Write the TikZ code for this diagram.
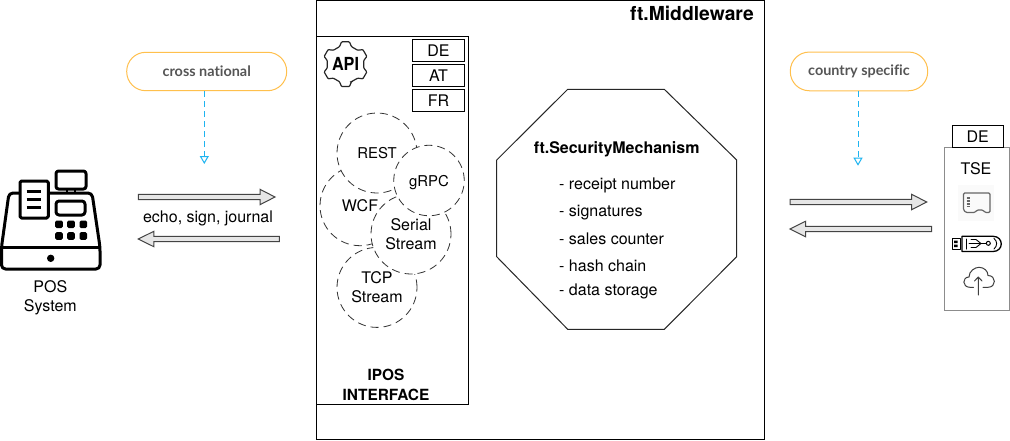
\documentclass[tikz,border=0pt]{standalone}
\usepackage{fontspec}
\setmainfont{TeX Gyre Heros}
\newfontfamily\pillfont[Ligatures=NoCommon]{Lato}
\usetikzlibrary{arrows.meta}
\definecolor{pillline}{HTML}{FFC04D}
\definecolor{pilltext}{HTML}{555555}
\definecolor{hint}{HTML}{1EB4F0}
\definecolor{arrowfill}{HTML}{E6E6E6}
\definecolor{arrowline}{HTML}{444444}
\tikzset{
  x=1pt,y=-1pt,
  basefont/.style={font=\fontsize{16}{19}\selectfont},
  narrowfont/.style={font=\fontsize{14.9}{19}\selectfont},
  plainbox/.style={draw=black,line width=1pt,fill=white},
  code/.style={draw=black,line width=.9pt,fill=white,inner sep=0pt,minimum width=52.4pt,minimum height=22pt,basefont,text depth=0pt},
  proto/.style={circle,draw=black!80,line width=.8pt,dash pattern=on 8pt off 5pt,fill=white,inner sep=0pt,basefont,align=center,text depth=0pt},
  lbl/.style={inner sep=0pt,basefont,anchor=base},
  item/.style={inner sep=0pt,basefont,anchor=base west},
  boldlbl/.style={inner sep=0pt,anchor=base,font=\fontsize{15.4}{19}\selectfont\bfseries},
  pill/.style={draw=pillline,line width=1pt,fill=white,rounded corners=19pt,inner sep=0pt,text=pilltext,font=\fontsize{14.4}{15}\selectfont\pillfont\bfseries},
  hintline/.style={draw=hint,line width=1pt,dash pattern=on 6pt off 4pt,-{Triangle[open,length=8pt,width=9pt]}},
  block/.style={draw=arrowline,line width=1pt,fill=arrowfill,line join=miter},
  reg/.style={draw=black,line width=3pt,line join=round,fill=white},
  keycap/.style={fill=black,rounded corners=1.5pt},
  iconthin/.style={draw=black,line width=1pt,line cap=round,line join=round},
}
\newcommand{\blockright}[3]{\draw[block] (#1,#3-2.7) -- (#2-15,#3-2.7) -- (#2-15,#3-7.7) -- (#2,#3) -- (#2-15,#3+7.7) -- (#2-15,#3+2.7) -- (#1,#3+2.7) -- cycle;}
\newcommand{\blockleft}[3]{\draw[block] (#2,#3-2.7) -- (#1+15.5,#3-2.7) -- (#1+15.5,#3-7.7) -- (#1,#3) -- (#1+15.5,#3+7.7) -- (#1+15.5,#3+2.7) -- (#2,#3+2.7) -- cycle;}
\begin{document}
\begin{tikzpicture}
\useasboundingbox (0,0) rectangle (1010,440);
\fill[white] (0,0) rectangle (1010,440);

% --- Cash register ---
\draw[reg,rounded corners=2.5pt] (56,171) rectangle (86,189);
\draw[black,line width=2pt] (67,189) -- (67,193) (75,189) -- (75,193);
\draw[reg,rounded corners=4pt] (9,193) -- (1.5,247) -- (1.5,269) -- (100,269) -- (100,247) -- (92,193) -- cycle;
\draw[black,line width=3pt] (1.5,247) -- (100,247);
\draw[reg,rounded corners=1.5pt] (20,181) rectangle (48.3,218);
\foreach \yy in {191,199.3,207.7}{\draw[black,line width=3pt] (26.7,\yy) -- (40.7,\yy);}
\draw[reg,rounded corners=3pt] (56,201) rectangle (85,215);
\foreach \xx in {59,71,83.3}{\foreach \yy in {224.3,236}{
  \fill[keycap] (\xx-3.8,\yy-3.8) rectangle (\xx+3.8,\yy+3.8);}}
\fill[black] (50.7,258.3) circle[radius=3.7];
\node[inner sep=0pt,basefont,align=center] (pos) at (50.3,298) {POS\\System};

% --- Left arrows ---
\blockright{138.3}{275}{197}
\node[lbl] (calls) at (208,222.7) {echo, sign, journal};
\blockleft{138.3}{279.3}{239}

% --- Pills ---
\node[pill,minimum width=160pt,minimum height=38.4pt] (cross) at (206.7,71.5) {cross national};
\node[pill,minimum width=137.4pt,minimum height=38.7pt] (country) at (859,71.4) {country specific};
\coordinate (crossend) at (204.3,164);
\coordinate (countryend) at (858,165.7);
\draw[hintline] (cross.south -| crossend) -- (crossend);
\draw[hintline] (country.south -| countryend) -- (countryend);

% --- Middleware ---
\draw[plainbox] (316,0.5) rectangle (764.5,439);
\node[boldlbl,anchor=base east,font=\fontsize{19.3}{23}\selectfont\bfseries] (mw) at (754,20.7) {ft.Middleware};

% --- Interface box ---
\draw[plainbox] (316,36) rectangle (468.5,404);
\node[code] (de) at (438.5,50.3) {DE};
\node[code] (at) at (438.5,75.5) {AT};
\node[code] (fr) at (438.5,100.3) {FR};

% gear
\begin{scope}[shift={(345.5,64.2)}]
\draw[black!85,line width=1.2pt,rounded corners=.8pt]
  (72:18.5) \foreach \k in {0,...,5}{
    -- ({90+60*\k-19}:18.5) -- ({90+60*\k-10}:22.7) -- ({90+60*\k+10}:22.7) -- ({90+60*\k+19}:18.5)
  } -- cycle;
\node[inner sep=0pt,xscale=.9,font=\fontsize{18}{18}\selectfont\bfseries] (api) at (0,0) {API};
\end{scope}

% protocol circles
\node[proto,minimum size=80pt] (tcp) at (377,287.4) {TCP\\Stream};
\node[proto,minimum size=80pt] (wcf) at (360,205.7) {WCF};
\node[proto,minimum size=80pt] (serial) at (411,234) {Serial\\Stream};
\node[proto,minimum size=80pt,narrowfont] (rest) at (377,153) {REST};
\node[proto,minimum size=70.5pt,narrowfont] (grpc) at (429,180.5) {gRPC};

\node[boldlbl] (ipos) at (386,380.7) {IPOS};
\node[boldlbl] (iface) at (386,400.7) {INTERFACE};

% --- Security mechanism octagon ---
\draw[black!85,line width=1pt,fill=white] (567.7,89.3) -- (664.3,89.3) -- (736.7,160) -- (736.7,256.7) -- (664.3,329.3) -- (567.7,329.3) -- (496.7,256.7) -- (496.7,160) -- cycle;
\node[boldlbl,font=\fontsize{16}{19}\selectfont\bfseries] (sec) at (616.7,153) {ft.SecurityMechanism};
\node[item] (i1) at (559,189) {- receipt number};
\node[item] (i2) at (559,216) {- signatures};
\node[item] (i3) at (559,244) {- sales counter};
\node[item] (i4) at (559,271) {- hash chain};
\node[item] (i5) at (559,295) {- data storage};

% --- Right arrows ---
\blockright{790}{926.7}{202}
\blockleft{790}{931.7}{229}

% --- TSE ---
\draw[draw=black!45,line width=1pt,fill=white] (944.3,147.3) rectangle (1009.6,310.3);
\node[code,minimum width=51pt] (tsede) at (977.8,136.3) {DE};
\node[lbl] (tse) at (976,174) {TSE};

% sd card
\fill[black!2] (957.7,185) rectangle (994,221);
\draw[black!60,line width=1.2pt,line join=round,rounded corners=1.2pt]
  (963.5,193) -- (990,193) -- (990,212.5) -- (985,212.5) -- (983,210) -- (977,210) -- (975,212.5) -- (966,212.5) -- (963.5,210) -- cycle;
\foreach \yy in {197,198.5,...,207}{\draw[black!60,line width=.6pt] (966.5,\yy) -- (970,\yy);}

% usb stick
\draw[iconthin] (952.3,238.3) rectangle (960.7,249.3);
\fill[black] (954,240.5) rectangle (957.5,243) (954,244.7) rectangle (957.5,247.2);
\draw[iconthin,line width=1.3pt] (962,236.3) -- (993,236.3) .. controls (1004,236.3) and (1004,251.5) .. (993,251.5) -- (962,251.5) -- cycle;
\draw[iconthin] (966,239) -- (966,249);
\draw[iconthin,line width=.9pt] (969,243.5) -- (986,243.5) (971,239.5) -- (976,239.5) -- (981,243.5) -- (976,247.5) -- (971,247.5);
\draw[iconthin,fill=white] (988.3,243.3) circle[radius=2];
\draw[iconthin,line width=.9pt] (994,238.5) .. controls (997.5,241) and (997.5,246) .. (994,249);

% cloud
\draw[black!75,line width=1pt,line cap=round,line join=round]
  (973.5,287.3) -- (970,287.3) .. controls (962,287.3) and (962,277) .. (969,277)
  .. controls (969,271) and (975,267.3) .. (979,267.3)
  .. controls (984,267.3) and (988,271) .. (988,275.5)
  .. controls (996.5,275.5) and (996.5,287.3) .. (988,287.3) -- (983,287.3);
\draw[black!75,line width=1pt,line cap=round,line join=round] (978.3,295) -- (978.3,277) (974.5,281) -- (978.3,277) -- (982,281);
\end{tikzpicture}
\end{document}
